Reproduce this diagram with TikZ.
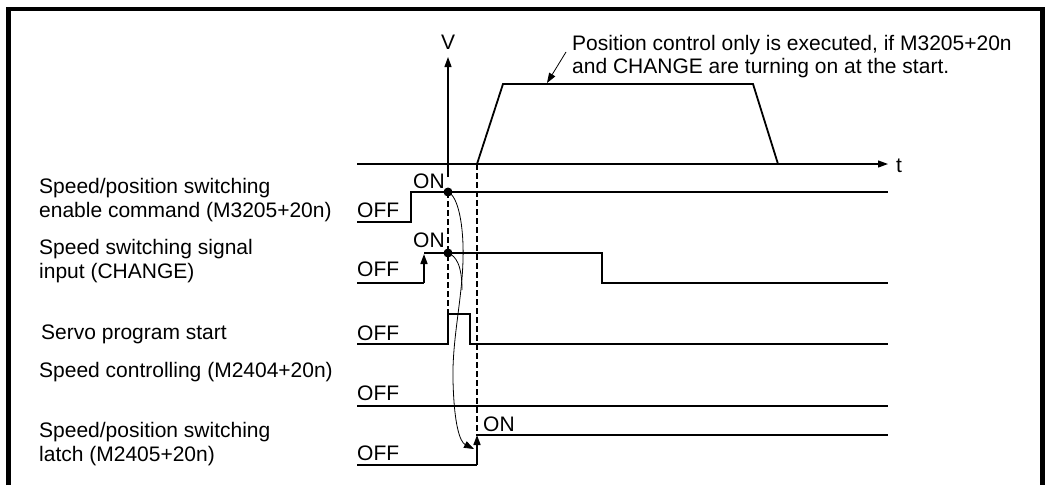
\documentclass[tikz,border=0pt]{standalone}
\usepackage{fontspec}
\setmainfont{Liberation Sans}
\usetikzlibrary{arrows.meta}
\begin{document}
\begin{tikzpicture}[x=1pt,y=-1pt,
  lbl/.style={anchor=base west,inner sep=0pt,font=\fontsize{21}{24}\selectfont},
  sig/.style={line width=2.8pt},
  ax/.style={line width=1.2pt},
  dsh/.style={line width=1.2pt,dash pattern=on 6pt off 3pt},
  tipa/.style={-{Triangle[length=10pt,width=7pt]}},
  curv/.style={line width=0.8pt,-{Triangle[length=10pt,width=7pt]}},
  ]
\useasboundingbox (0,0) rectangle (1048,485);
% frame
\draw[line width=4.2pt] (8.5,485) -- (8.5,9) -- (1042.5,9) -- (1042.5,485);

% left labels
\node[lbl] (l1a) at (39,193) {Speed/position switching};
\node[lbl] (l1b) at (39,217) {enable command (M3205+20n)};
\node[lbl] (l2a) at (39,254) {Speed switching signal};
\node[lbl] (l2b) at (39,278) {input (CHANGE)};
\node[lbl] (l3)  at (41,339) {Servo program start};
\node[lbl] (l4)  at (39,377) {Speed controlling (M2404+20n)};
\node[lbl] (l5a) at (39,437) {Speed/position switching};
\node[lbl] (l5b) at (39,461) {latch (M2405+20n)};

% OFF / ON labels
\node[lbl] (off1) at (357,217) {OFF};
\node[lbl] (off2) at (357,276) {OFF};
\node[lbl] (off3) at (357,340) {OFF};
\node[lbl] (off4) at (357,400) {OFF};
\node[lbl] (off5) at (357,460) {OFF};
\node[lbl] (on1) at (413,188) {ON};
\node[lbl] (on2) at (413,247) {ON};
\node[lbl] (on5) at (483,431) {ON};

% axes
\coordinate (vbot) at (448,177);
\coordinate (vtop) at (448,57);
\draw[ax,tipa] (vbot) -- (vtop);
\node[lbl,anchor=base] (vlab) at (448,49) {V};
\coordinate (tleft) at (357,164);
\coordinate (tright) at (888,164);
\draw[ax,tipa] (tleft) -- (tright);
\node[lbl] (tlab) at (896,172) {t};

% speed profile
\draw[line width=1.8pt] (477,164) -- (503,84) -- (753,84) -- (778,164);

% annotation
\node[lbl] (ann1) at (572,50) {Position control only is executed, if M3205+20n};
\node[lbl] (ann2) at (572,73) {and CHANGE are turning on at the start.};
\coordinate (leadA) at (566,52);
\coordinate (leadB) at (547,83);
\draw[line width=0.8pt,-{Triangle[length=10pt,width=7pt]}] (leadA) -- (leadB);

% dashed lines
\draw[dsh] (448,192) -- (448,314);
\draw[dsh] (477,164) -- (477,436);

% signal 1
\draw[sig] (357,222) -- (411,222) -- (411,192) -- (888,192);
% signal 2
\coordinate (c2low) at (424,283);
\coordinate (c2high) at (424,254);
\draw[sig] (357,283) -- (c2low);
\draw[line width=1.6pt,tipa] (c2low) -- (c2high);
\draw[sig] (424,253) -- (602,253) -- (602,283) -- (888,283);
% signal 3
\draw[sig] (357,344) -- (448,344) -- (448,314) -- (470,314) -- (470,344) -- (888,344);
% signal 4
\draw[sig] (357,406) -- (888,406);
% signal 5
\coordinate (c5low) at (477,465);
\coordinate (c5high) at (477,435);
\draw[sig] (357,465) -- (c5low);
\draw[line width=1.6pt,tipa] (c5low) -- (c5high);
\draw[sig] (477,435) -- (888,435);

% dots
\coordinate (d1) at (448,192);
\coordinate (d2) at (448,253);
\fill (d1) circle (4.5pt);
\fill (d2) circle (4.5pt);

% curved arrows
\coordinate (ctip) at (474,449);
\draw[curv] (d1) .. controls (458,196) and (464,225) .. (463,260)
  .. controls (462,300) and (452,340) .. (453,380)
  .. controls (454,425) and (460,442) .. (ctip);
\draw[line width=0.8pt] (d2) .. controls (456,256) and (462,265) .. (462,290);
\end{tikzpicture}
\end{document}
